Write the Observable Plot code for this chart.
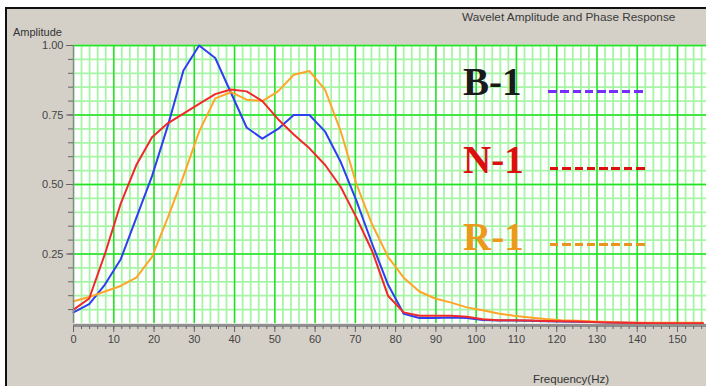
<!DOCTYPE html>
<html>
<head>
<meta charset="utf-8">
<script src="https://cdn.jsdelivr.net/npm/d3@7"></script>
<script src="https://cdn.jsdelivr.net/npm/@observablehq/plot@0.6"></script>
<style>
  html, body { margin: 0; padding: 0; background: #ffffff; }
  #wrap { position: relative; width: 706px; height: 386px; overflow: hidden; background: #ffffff; font-family: "Liberation Sans", Arial, sans-serif; }
  #panel { position: absolute; left: 5px; top: 7px; width: 701px; height: 379px; background: #d4d0c8; border-left: 2px solid #111; border-top: 2px solid #111; box-sizing: border-box; }
  #chart { position: absolute; left: 0; top: 0; }
  .lbl { position: absolute; color: #333; font-size: 11px; white-space: nowrap; }
  .leg { position: absolute; font-family: "Liberation Serif", "Times New Roman", serif; font-weight: bold; font-size: 39px; line-height: 1; white-space: nowrap; }
  .dash { position: absolute; width: 98px; height: 3px; }
</style>
</head>
<body>
<div id="wrap">
  <div id="panel"></div>
  <div id="chart"></div>
  <div class="lbl" style="left:462px; top:10px; font-size:11.8px; color:#3a3a3a;">Wavelet Amplitude and Phase Response</div>
  <div class="lbl" style="left:13px; top:26px; color:#333;">Amplitude</div>
  <div class="lbl" style="left:533px; top:373px; font-size:11.5px; color:#333;">Frequency(Hz)</div>
</div>
<script>
// Sample frequencies (Hz)
const freq = [0,3.9,7.8,11.7,15.6,19.5,23.4,27.3,31.2,35.2,39.1,43,46.9,50.8,54.7,58.6,62.5,66.4,70.3,74.2,78.1,82,85.9,89.8,93.8,97.7,101.6,105.5,109.4,113.3,117.2,121.1,125,128.9,132.8,136.7,140.6,144.5,148.4,152.3,156.3];
// Amplitude series
const b1 = [0.04,0.07,0.14,0.23,0.38,0.53,0.71,0.91,1.00,0.955,0.83,0.705,0.665,0.70,0.75,0.75,0.69,0.58,0.44,0.285,0.14,0.035,0.02,0.02,0.022,0.02,0.013,0.011,0.011,0.01,0.008,0.007,0.006,0.005,0.004,0.003,0.002,0.002,0.002,0.002,0.002];
const n1 = [0.05,0.09,0.25,0.43,0.57,0.67,0.72,0.755,0.79,0.825,0.842,0.835,0.80,0.735,0.68,0.63,0.57,0.49,0.38,0.26,0.10,0.04,0.028,0.028,0.028,0.024,0.015,0.012,0.012,0.011,0.009,0.008,0.007,0.005,0.004,0.003,0.002,0.001,0.001,0.001,0.001];
const r1 = [0.08,0.095,0.115,0.135,0.165,0.24,0.38,0.53,0.69,0.81,0.832,0.805,0.80,0.835,0.895,0.908,0.84,0.69,0.50,0.355,0.24,0.165,0.115,0.09,0.075,0.058,0.048,0.036,0.028,0.022,0.016,0.012,0.01,0.007,0.005,0.004,0.003,0.003,0.003,0.003,0.003];
// Series names and colours
const seriesNames = ["B-1", "N-1", "R-1"];
const seriesColors = ["#2f3ff2", "#f02a2a", "#ffa52a"];
const legendColors = ["#7a2cff", "#dd1010", "#e8961e"];
const legendTextColors = ["#1a1a1a", "#dd1010", "#eb9a1c"];
// Axis ticks
const xTicks = [0,10,20,30,40,50,60,70,80,90,100,110,120,130,140,150];
const xMinor = d3.range(0, 158, 2);
const yTicks = [0.25, 0.50, 0.75, 1.00];
const yMinor = d3.range(0.05, 1.0001, 0.05);

const rows = [];
[b1, r1, n1].forEach((arr, k) => {
  const name = [seriesNames[0], seriesNames[2], seriesNames[1]][k];
  arr.forEach((v, i) => rows.push({series: name, f: freq[i], a: v}));
});

const lineFor = (name, idx) => Plot.line(rows.filter(d => d.series === name), {
  x: "f", y: "a", stroke: seriesColors[idx], strokeWidth: 2, curve: "linear"
});

const chart = Plot.plot({
  width: 706,
  height: 386,
  marginLeft: 73,
  marginRight: 0,
  marginTop: 45,
  marginBottom: 63,
  x: {domain: [0, 157.2]},
  y: {domain: [0, 1]},
  style: {background: "transparent", fontFamily: "Liberation Sans, Arial, sans-serif", fontSize: "11px", color: "#444"},
  marks: [
    Plot.frame({fill: "#ffffff", stroke: null}),
    Plot.ruleX(xMinor, {stroke: "#a6f5a6", strokeWidth: 1.8}),
    Plot.ruleY(yMinor, {stroke: "#a6f5a6", strokeWidth: 1.8}),
    Plot.ruleX(xTicks.filter(t => t > 0), {stroke: "#22e022", strokeWidth: 1.4}),
    Plot.ruleY(yTicks, {stroke: "#22e022", strokeWidth: 1.4}),
    lineFor("B-1", 0),
    lineFor("R-1", 2),
    lineFor("N-1", 1),
    Plot.ruleX([0], {stroke: "#8a8a8a", strokeWidth: 1.5}),
    Plot.ruleY([0], {stroke: "#8f8f8f", strokeWidth: 3, dy: 2}),
    Plot.axisX({ticks: xMinor, tickSize: 3, tickFormat: () => "", stroke: "#666", dy: 3, label: null}),
    Plot.axisX({ticks: xTicks, tickSize: 6, tickPadding: 3, stroke: "#666", fill: "#444", dy: 3, label: null, tickFormat: d => String(d)}),
    Plot.axisY({ticks: yMinor, tickSize: 5, tickFormat: () => "", stroke: "#666", label: null}),
    Plot.axisY({ticks: yTicks, tickSize: 7, tickPadding: 3, stroke: "#666", fill: "#444", label: null, tickFormat: d3.format(".2f")})
  ]
});
document.getElementById("chart").appendChild(chart);

// Legend (HTML overlay)
const legTops = [62, 140, 217];
const dashTops = [90, 167, 243];
const wrap = document.getElementById("wrap");
seriesNames.forEach((name, i) => {
  const t = document.createElement("div");
  t.className = "leg";
  t.textContent = name;
  t.style.left = "463px";
  t.style.top = legTops[i] + "px";
  t.style.color = legendTextColors[i];
  wrap.appendChild(t);
  const d = document.createElement("div");
  d.className = "dash";
  d.style.left = (i === 0 ? 548 : 550) + "px";
  d.style.top = dashTops[i] + "px";
  d.style.background = `repeating-linear-gradient(to right, ${legendColors[i]} 0px, ${legendColors[i]} 8.5px, transparent 8.5px, transparent 12.3px)`;
  wrap.appendChild(d);
});
</script>
</body>
</html>
